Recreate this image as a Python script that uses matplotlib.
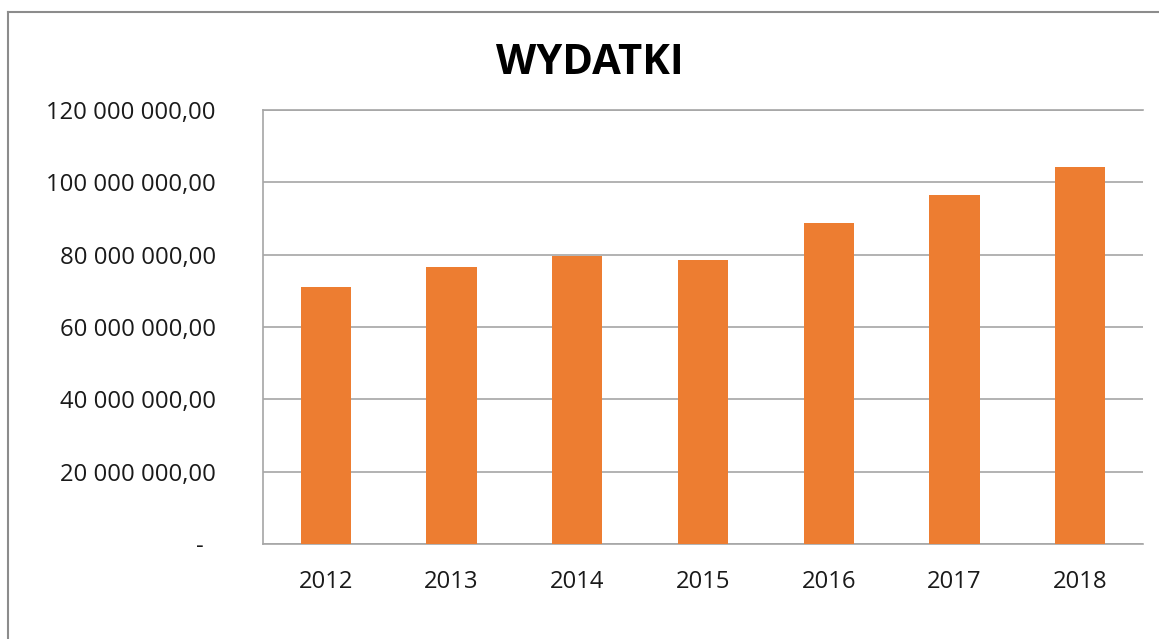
import matplotlib
matplotlib.use('Agg')
import matplotlib.pyplot as plt
from matplotlib.lines import Line2D
from matplotlib.ticker import FuncFormatter

# Data
years = ['2012', '2013', '2014', '2015', '2016', '2017', '2018']
wydatki = [71.0e6, 76.6e6, 79.5e6, 78.5e6, 88.8e6, 96.5e6, 104.3e6]
y_ticks = [0, 20e6, 40e6, 60e6, 80e6, 100e6, 120e6]

BAR_COLOR = '#ED7D31'
GRID_COLOR = '#a6a6a6'
TEXT_COLOR = '#1a1a1a'

plt.rcParams['font.family'] = ['Open Sans', 'DejaVu Sans']


def pl_format(v, pos):
    """Polish accounting style: spaces as thousands sep, comma decimals, '-' for zero."""
    if v == 0:
        return '-  '
    s = f"{v:,.2f}"
    return s.replace(',', ' ').replace('.', ',')


fig = plt.figure(figsize=(11.59, 6.39), dpi=100)
ax = fig.add_axes([0.2269, 0.1487, 0.9862 - 0.2269, 0.8279 - 0.1487])

x = range(len(years))
ax.bar(x, wydatki, width=0.4, color=BAR_COLOR, zorder=3)

ax.set_xlim(-0.5, len(years) - 0.5)
ax.set_ylim(0, 120e6)
ax.set_yticks(y_ticks)
ax.yaxis.set_major_formatter(FuncFormatter(pl_format))
ax.set_xticks(list(x))
ax.set_xticklabels(years)

ax.grid(axis='y', color=GRID_COLOR, linewidth=1.2, zorder=0)
ax.tick_params(axis='both', length=0, labelsize=17.2, colors=TEXT_COLOR)
ax.tick_params(axis='y', pad=34)
ax.tick_params(axis='x', pad=19)

for side in ['left', 'bottom', 'top']:
    ax.spines[side].set_color(GRID_COLOR)
    ax.spines[side].set_linewidth(1.2)
ax.spines['right'].set_visible(False)

fig.text(0.509, 0.901, 'WYDATKI', ha='center', va='center',
         fontsize=30, fontweight='bold', color='black')

# outer chart frame (top and left edges)
fig.add_artist(Line2D([0.0069, 1.0], [0.981, 0.981], color='#8c8c8c', linewidth=1.5))
fig.add_artist(Line2D([0.0069, 0.0069], [0.0, 0.981], color='#8c8c8c', linewidth=1.5))

fig.savefig('out.png', dpi=100)
plt.close(fig)
